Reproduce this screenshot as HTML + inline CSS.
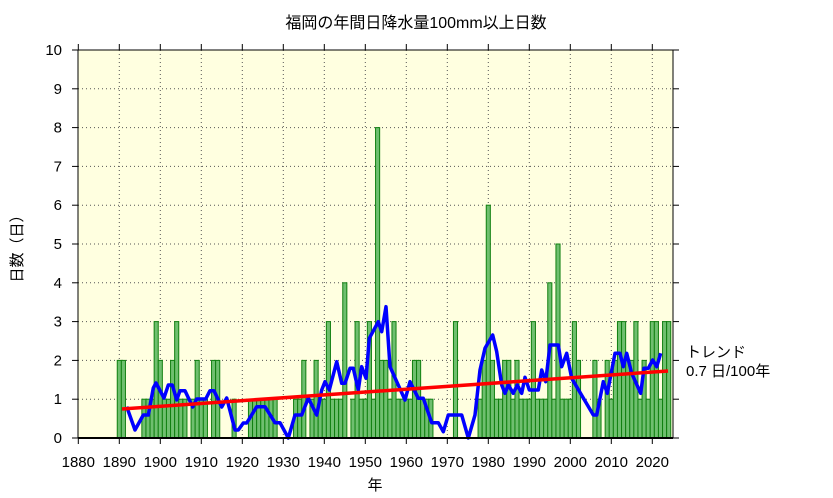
<!DOCTYPE html>
<html><head><meta charset="utf-8"><style>body{margin:0;background:#fff}svg{display:block}text{font-family:"Liberation Sans","Noto Sans CJK JP",sans-serif;font-size:15px;fill:#000}</style></head><body>
<svg width="833" height="498" viewBox="0 0 833 498">
<rect x="78" y="50" width="595" height="388" fill="#ffffe0"/>
<g id="grid" stroke="#555" stroke-width="1" stroke-dasharray="1,3"></g>
<g id="bars" fill="#6fbf6f" stroke="#108010" stroke-width="1"></g>
<polyline fill="none" stroke="#0000ff" stroke-width="3.5" stroke-linejoin="round" points="126.7,406.7 135,430 143.3,415 148.3,415 153.3,388 156,383 164,398 168.3,385 172.3,385 176.7,400 180,390.7 185,390.7 192.7,407 196.7,399 205.7,399 210,390.7 214,390.7 221.7,407 226.7,398 235,430 238.3,430 243.3,423 246.7,423 256.7,406.7 265,406.7 275,422.7 280,422.7 288.3,438 295,415 301.7,415 308.3,398 316.7,415 321.7,390 325,381.7 329.3,390 336.7,361.7 341.7,383.3 345,383.3 350,368.3 353.3,368.3 358.3,390 361.7,366.7 366,378.3 369.3,338.3 378.3,321.7 381.7,331.7 386,306.7 390,366.7 405,400 410,381.7 418.3,398.3 423.3,398.3 431.7,422.7 438.3,422.7 443.3,431.7 448.3,415 461.7,415 468.3,438 475,415 480,370 485,348.3 492.7,335 496.7,351.7 501.7,385 505,393.3 508.3,385 513.3,393.3 517.3,385 521.7,393.3 525,377.3 529.3,390 538.3,390 541.7,370 545.7,381.7 550,345 558.3,345 561.7,366.7 566.7,353.3 571.7,378.3 593.3,415 596.7,415 603.3,381.7 607.3,393.3 615,353.3 620,353.3 623.3,366.7 626.7,353.3 631.7,373.3 640.7,393.3 644,368.3 648.3,368.3 652.7,360 656.7,366.7 660.7,353.3"/>
<line x1="122" y1="409" x2="668" y2="371" stroke="#ff0000" stroke-width="3.5"/>
<rect x="78" y="50" width="595" height="388" fill="none" stroke="#000" stroke-width="1"/>
<line x1="78" y1="438" x2="673" y2="438" stroke="#000" stroke-width="2"/>
<g id="ticks" stroke="#000" stroke-width="1"></g>
<g id="labels"></g>
<text x="416" y="28" text-anchor="middle" style="font-size:16px">福岡の年間日降水量100mm以上日数</text>
<text x="375" y="490" text-anchor="middle">年</text>
<text transform="translate(22,245) rotate(-90)" text-anchor="middle">日数（日）</text>
<text x="686" y="357">トレンド</text>
<text x="686" y="376">0.7 日/100年</text>
</svg>
<script>
var ns="http://www.w3.org/2000/svg";
function el(p,t,a,tx){var e=document.createElementNS(ns,t);for(var k in a)e.setAttribute(k,a[k]);if(tx!==undefined)e.textContent=String(tx);document.getElementById(p).appendChild(e);}
function X(y){return 119.3+(y-1890)*4.1;}
function Y(v){return 438-v*38.8;}
for(var d=1880;d<=2020;d+=10){var x=X(d);if(d>1880)el("grid","line",{x1:x,y1:50,x2:x,y2:438});el("ticks","line",{x1:x,y1:438,x2:x,y2:444});el("ticks","line",{x1:x,y1:50,x2:x,y2:44});el("labels","text",{x:x,y:467,"text-anchor":"middle"},d);}
for(var v=0;v<=10;v++){var y=Y(v);if(v>0&&v<10)el("grid","line",{x1:78,y1:y,x2:673,y2:y});el("ticks","line",{x1:72,y1:y,x2:78,y2:y});el("ticks","line",{x1:673,y1:y,x2:679,y2:y});el("labels","text",{x:62,y:y+5,"text-anchor":"end"},v);}
var data={1890:2,1891:2,1896:1,1897:1,1898:1,1899:3,1900:2,1901:1,1902:1,1903:2,1904:3,1905:1,1906:1,1908:1,1909:2,1910:1,1911:1,1913:2,1914:2,1918:1,1922:1,1923:1,1924:1,1925:1,1926:1,1927:1,1928:1,1933:1,1934:1,1935:2,1937:1,1938:2,1939:1,1940:1,1941:3,1942:1,1943:1,1944:1,1945:4,1947:1,1948:3,1949:1,1950:1,1951:3,1952:1,1953:8,1954:2,1955:2,1956:1,1957:3,1958:1,1959:1,1960:1,1961:1,1962:2,1963:2,1964:1,1965:1,1966:1,1972:3,1978:1,1979:2,1980:6,1981:2,1982:1,1983:1,1984:2,1985:2,1986:1,1987:2,1988:1,1989:1,1990:1,1991:3,1992:1,1993:1,1994:1,1995:4,1996:1,1997:5,1998:1,1999:1,2000:1,2001:3,2002:2,2006:2,2007:1,2009:2,2010:1,2011:2,2012:3,2013:3,2014:2,2015:2,2016:3,2017:1,2018:2,2019:1,2020:3,2021:3,2022:1,2023:3,2024:3};
for(var yr in data){var v=data[yr],x=X(+yr);var w=(+yr==2024)?Math.min(4.1,673-(x-2.05)):4.1;el("bars","rect",{x:x-2.05,y:Y(v),width:w,height:v*38.8});}
</script>
</body></html>
